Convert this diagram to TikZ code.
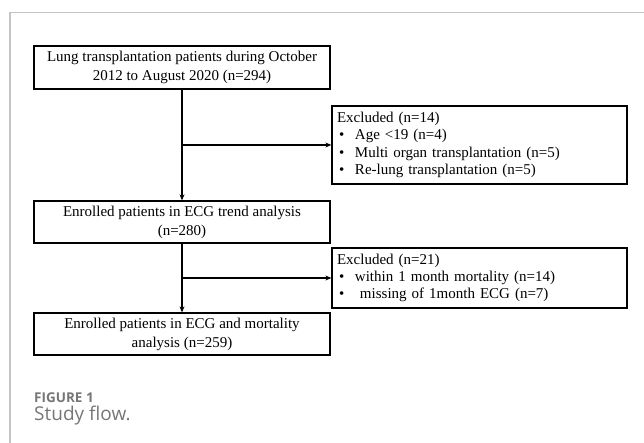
\documentclass[tikz,border=0pt]{standalone}
\usepackage{fontspec}
\setmainfont{Liberation Serif}
\newfontfamily\capfont{Open Sans}
\usetikzlibrary{arrows.meta}
\definecolor{framegray}{HTML}{C4C4C4}
\definecolor{capgray}{HTML}{767676}
\tikzset{
  mainbox/.style={draw=black, line width=1.3pt, minimum width=296pt, inner sep=0pt, align=center,
    font=\fontsize{15}{19}\selectfont},
  exbox/.style={draw=black, line width=1.3pt, minimum width=295pt, inner sep=0pt,
    text width=285pt, align=left, font=\fontsize{15}{17.4}\selectfont},
  arr/.style={line width=1.5pt, -{Stealth[length=6pt,width=5pt]}},
  frameline/.style={draw=framegray, line width=1.3pt},
}
\newcommand{\bul}{\makebox[2pt]{}\makebox[16pt][l]{\textbullet}}
\begin{document}
\begin{tikzpicture}[x=1pt,y=-1pt]
\useasboundingbox (0,0) rectangle (644,443);
\draw[frameline] (644,12.5) -- (10,12.5) -- (10,443);
\node[mainbox, minimum height=43pt] (b1) at (182,67.5)
  {Lung transplantation patients during October\\2012 to August 2020 (n=294)};
\node[mainbox, minimum height=42pt] (b2) at (182,222)
  {Enrolled patients in ECG trend analysis\\(n=280)};
\node[mainbox, minimum height=42pt] (b3) at (182,334)
  {Enrolled patients in ECG and mortality\\analysis (n=259)};
\node[exbox, minimum height=78pt] (e1) at (479.5,145)
  {Excluded (n=14)\\\bul Age \textless19 (n=4)\\\bul Multi organ transplantation (n=5)\\\bul Re-lung transplantation (n=5)};
\node[exbox, minimum height=60pt] (e2) at (479.5,278)
  {Excluded (n=21)\\\bul within 1 month mortality (n=14)\\\bul \ missing\ of 1month ECG (n=7)};
\draw[arr] (b1) -- (b2);
\draw[arr] (b2) -- (b3);
\coordinate (j1) at (b1.south |- e1.west);
\coordinate (j2) at (b2.south |- e2.west);
\draw[arr] (j1) -- (e1);
\draw[arr] (j2) -- (e2);
\node[anchor=base west, inner sep=0pt, text=capgray, font=\capfont\bfseries\fontsize{13.5}{15}\selectfont] (cap1) at (34,402) {FIGURE 1};
\node[anchor=base west, inner sep=0pt, text=capgray, font=\capfont\fontsize{19}{22}\selectfont] (cap2) at (34,420) {Study flow.};
\end{tikzpicture}
\end{document}
